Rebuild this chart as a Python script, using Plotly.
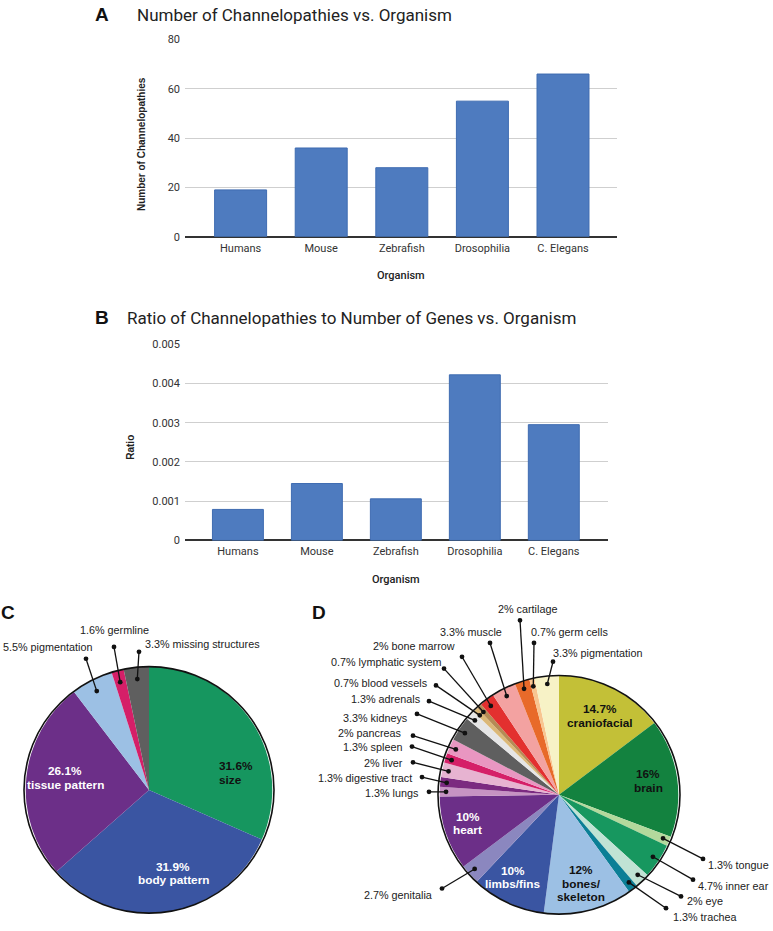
import math
import plotly.graph_objects as go

W, H = 773, 931

# ---------------- data ----------------
organisms = ["Humans", "Mouse", "Zebrafish", "Drosophilia", "C. Elegans"]
channelopathies = [19, 36, 28, 55, 66]
ratio = [0.00079, 0.00145, 0.00106, 0.00422, 0.00295]

c_labels = ["size", "body pattern", "tissue pattern", "pigmentation", "germline", "missing structures"]
c_values = [31.6, 31.9, 26.1, 5.5, 1.6, 3.3]
c_colors = ["#16965f", "#3a55a2", "#6c2f88", "#9cc0e4", "#d51f68", "#5f5f5f"]

d_labels = ["craniofacial", "brain", "tongue", "inner ear", "eye", "trachea",
            "bones/<br>skeleton", "limbs/fins", "genitalia", "heart", "lungs",
            "digestive tract", "liver", "spleen", "pancreas", "kidneys", "adrenals",
            "blood vessels", "lymphatic system", "bone marrow", "muscle", "cartilage",
            "germ cells", "pigmentation"]
d_values = [14.7, 16, 1.3, 4.7, 2, 1.3, 12, 10, 2.7, 10, 1.3, 1.3, 2, 1.3, 2,
            3.3, 1.3, 0.7, 0.7, 2, 3.3, 2, 0.7, 3.3]
d_colors = ["#c3c037", "#13823f", "#b3d99c", "#17975f", "#c0e3d4", "#0b7f96",
            "#9cc0e4", "#3a55a2", "#8b87bf", "#6c2f88", "#c693c3", "#7b2a80",
            "#e7b3d1", "#d51f68", "#e996c1", "#5f5f5f", "#e6e6e6", "#dbb877",
            "#b58b55", "#e3302f", "#f3a2a1", "#e86a2a", "#f8c590", "#f7f2c6"]

# ---------------- layout helpers ----------------
def px(x):
    return x / W

def py(y):
    return 1 - y / H

ROB = "Roboto, Arial, sans-serif"
ARI = "Liberation Sans, Arial, sans-serif"

fig = go.Figure()

# ---------------- bar panels ----------------
bar_style = dict(marker=dict(color="#4e7bbf", line=dict(color="#3f6cb1", width=1)),
                 width=0.645, showlegend=False)
fig.add_trace(go.Bar(x=organisms, y=channelopathies, xaxis="x", yaxis="y", **bar_style))
fig.add_trace(go.Bar(x=organisms, y=ratio, xaxis="x2", yaxis="y2", **bar_style))

axis_common_x = dict(type="category", showgrid=False, zeroline=False, showline=False,
                     ticks="", tickfont=dict(family=ROB, size=11, color="#333"),
                     ticklabelstandoff=3, fixedrange=True)
axis_common_y = dict(showgrid=True, gridcolor="#cfcfcf", gridwidth=1, zeroline=True,
                     zerolinecolor="#333", zerolinewidth=1.5, showline=False, ticks="",
                     tickfont=dict(family=ROB, size=11, color="#333"),
                     ticklabelstandoff=4, fixedrange=True)

fig.update_layout(
    xaxis=dict(domain=[px(185), px(617)], range=[-0.69, 4.67], anchor="y", **axis_common_x),
    yaxis=dict(domain=[py(234), py(34)], range=[0, 80], dtick=20, anchor="x", **axis_common_y),
    xaxis2=dict(domain=[px(185), px(607.5)], range=[-0.67, 4.68], anchor="y2", **axis_common_x),
    yaxis2=dict(domain=[py(542), py(343)], range=[0, 0.005], dtick=0.001, anchor="x2",
                **axis_common_y),
)

annotations = []
shapes = []

def text(x, y, s, size, family=ROB, color="#222", bold=False, xanchor="center",
         angle=0, weight=None):
    f = dict(family=family, size=size, color=color)
    if bold:
        f["weight"] = "bold"
    if weight is not None:
        f["weight"] = weight
    annotations.append(dict(x=px(x), y=py(y), xref="paper", yref="paper", text=s,
                            showarrow=False, font=f, xanchor=xanchor, yanchor="middle",
                            textangle=angle))

# panel letters and titles
text(102, 9, "A", 19, family=ARI, color="#111", bold=True)
text(135, 9, "Number of Channelopathies vs. Organism", 17, color="#222", xanchor="left")
text(102, 316, "B", 19, family=ARI, color="#111", bold=True)
text(125, 316, "Ratio of Channelopathies to Number of Genes vs. Organism", 17,
     color="#222", xanchor="left")
text(8, 615, "C", 19, family=ARI, color="#111", bold=True)
text(319, 615, "D", 19, family=ARI, color="#111", bold=True)

# axis titles
text(141, 140, "Number of Channelopathies", 10, family=ARI, color="#222", bold=True, angle=-90)
text(401, 273, "Organism", 11, color="#222", weight=500)
text(131, 448, "Ratio", 10, family=ARI, color="#222", bold=True, angle=-90)
text(396, 582, "Organism", 11, color="#222", weight=500)

# ---------------- pies ----------------
def add_pie(labels, values, colors, cx, cy, R):
    fig.add_trace(go.Pie(
        labels=labels, values=values, sort=False, direction="clockwise", rotation=0,
        marker=dict(colors=colors, line=dict(width=0)), textinfo="none",
        hoverinfo="label+percent", showlegend=False,
        domain=dict(x=[px(cx - R), px(cx + R)], y=[py(cy + R), py(cy - R)]),
    ))
    shapes.append(dict(type="circle", xref="paper", yref="paper", layer="above",
                       x0=px(cx - R), x1=px(cx + R), y0=py(cy + R), y1=py(cy - R),
                       line=dict(color="#111", width=1.6), fillcolor="rgba(0,0,0,0)"))

def mid_point(values, i, cx, cy, rr):
    tot = sum(values)
    before = sum(values[:i])
    th = 2 * math.pi * (before + values[i] / 2) / tot
    return cx + rr * math.sin(th), cy - rr * math.cos(th)

def dot(x, y, r=2.4):
    shapes.append(dict(type="circle", xref="paper", yref="paper", layer="above",
                       x0=px(x - r), x1=px(x + r), y0=py(y + r), y1=py(y - r),
                       line=dict(width=0), fillcolor="#111"))

def leaders(values, names, cx, cy, rr, spec, size=10.8):
    for i, (dx, dy, tx, ty, anc) in spec.items():
        ix, iy = mid_point(values, i, cx, cy, rr)
        shapes.append(dict(type="line", xref="paper", yref="paper", layer="above",
                           x0=px(ix), y0=py(iy), x1=px(dx), y1=py(dy),
                           line=dict(color="#111", width=1.3)))
        dot(ix, iy)
        dot(dx, dy)
        text(tx, ty, f"{values[i]:g}% {names[i]}", size, family=ARI, color="#222",
             xanchor=anc)

def inner(values, names, i, x, y, color, spacing=13.5, xanchor="center"):
    lines = [f"{values[i]:g}%"] + names[i].split("<br>")
    y0 = y - spacing * (len(lines) - 1) / 2
    for k, ln in enumerate(lines):
        text(x, y0 + k * spacing, ln, 11.8, family=ARI, color=color, bold=True,
             xanchor=xanchor)

# Panel C
CX, CY, CR = 149, 795, 125
add_pie(c_labels, c_values, c_colors, CX, CY, CR)
leaders(c_values, c_labels, CX, CY, 113, {
    3: (86, 662, 47, 650, "center"),
    4: (114, 650, 114, 633, "center"),
    5: (139, 655, 143, 647, "left"),
})
inner(c_values, c_labels, 0, 217, 778, "#111", xanchor="left")
inner(c_values, c_labels, 1, 173, 880, "#fff")
inner(c_values, c_labels, 2, 65, 783, "#fff")

# Panel D
DX, DY, DR = 559, 800, 121
add_pie(d_labels, d_values, d_colors, DX, DY, DR)
leaders(d_values, d_labels, DX, DY, 113, {
    21: (520, 623, 527, 612, "center"),
    20: (490, 646, 471, 635, "center"),
    22: (534, 646, 529, 635, "left"),
    23: (553, 665, 551, 656, "left"),
    19: (462, 660, 457, 649, "right"),
    18: (444, 672, 443, 665, "right"),
    17: (436, 689, 430, 687, "right"),
    16: (429, 705, 423, 703, "right"),
    15: (417, 718, 410, 722, "right"),
    14: (413, 740, 404, 737, "right"),
    13: (412, 751, 404, 751, "right"),
    12: (413, 767, 405, 768, "right"),
    11: (422, 782, 414, 783, "right"),
    10: (429, 797, 421, 798, "right"),
    8: (442, 895, 434, 902, "right"),
    2: (703, 865, 706, 871, "left"),
    3: (693, 886, 696, 892, "left"),
    4: (681, 903, 685, 908, "left"),
    5: (666, 915, 671, 924, "left"),
})
inner(d_values, d_labels, 0, 600, 720, "#111", spacing=14)
inner(d_values, d_labels, 1, 648, 786, "#111", spacing=14)
inner(d_values, d_labels, 6, 581, 890, "#111", spacing=13.5)
inner(d_values, d_labels, 7, 513, 884, "#fff", spacing=13.5)
inner(d_values, d_labels, 9, 468, 829, "#fff", spacing=13.5)

fig.update_layout(
    width=W, height=H, margin=dict(l=0, r=0, t=0, b=0),
    paper_bgcolor="white", plot_bgcolor="white", showlegend=False,
    annotations=annotations, shapes=shapes, bargap=0.35,
)

fig.write_html(
    "out.html",
    config={"displayModeBar": False},
    post_script="document.body.style.margin='0';document.body.style.overflow='hidden';",
)
